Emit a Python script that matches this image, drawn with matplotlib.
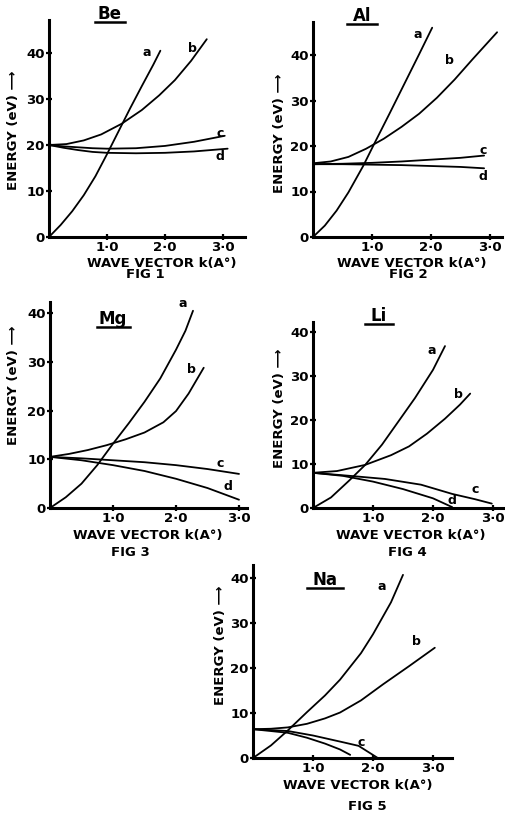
import matplotlib
matplotlib.use("Agg")
import matplotlib.pyplot as plt
from matplotlib.lines import Line2D

# ---------------- data ----------------
# Be
be_a_k = [0, 0.2, 0.4, 0.6, 0.8, 1.0, 1.2, 1.4, 1.6, 1.8, 1.92]
be_a_E = [0, 2.6, 5.6, 9.1, 13.2, 18, 23, 28, 32.8, 37.5, 40.5]
be_b_k = [0, 0.3, 0.6, 0.9, 1.25, 1.6, 1.9, 2.17, 2.45, 2.72]
be_b_E = [20, 20.2, 21, 22.3, 24.6, 27.6, 30.8, 34.1, 38.3, 43]
be_c_k = [0, 0.25, 0.5, 0.75, 1.0, 1.5, 2.0, 2.5, 3.03]
be_c_E = [20, 19.7, 19.5, 19.3, 19.2, 19.3, 19.8, 20.7, 22]
be_d_k = [0, 0.25, 0.5, 0.75, 1.0, 1.5, 2.0, 2.5, 3.08]
be_d_E = [20, 19.4, 18.9, 18.5, 18.3, 18.2, 18.3, 18.6, 19.2]

# Al
al_a_k = [0, 0.2, 0.4, 0.6, 0.85, 1.05, 1.3, 1.6, 1.8, 2.02]
al_a_E = [0, 2.5, 5.8, 9.8, 15.6, 20.8, 27.2, 35, 40.2, 46]
al_b_k = [0, 0.3, 0.6, 0.9, 1.2, 1.5, 1.8, 2.1, 2.4, 2.7, 3.12]
al_b_E = [16.2, 16.6, 17.6, 19.4, 21.6, 24.2, 27.1, 30.6, 34.6, 39, 45]
al_c_k = [0, 0.5, 1.0, 1.5, 2.0, 2.5, 2.9]
al_c_E = [16, 16.1, 16.3, 16.6, 17, 17.4, 17.9]
al_d_k = [0, 0.5, 1.0, 1.5, 2.0, 2.5, 2.9]
al_d_E = [16, 16, 15.9, 15.8, 15.6, 15.4, 15.1]

# Mg
mg_a_k = [0, 0.25, 0.5, 0.75, 1.0, 1.25, 1.5, 1.75, 2.0, 2.15, 2.27]
mg_a_E = [0, 2.2, 5, 8.8, 13.2, 17.4, 21.8, 26.6, 32.5, 36.4, 40.5]
mg_b_k = [0, 0.3, 0.6, 0.9, 1.2, 1.5, 1.8, 2.0, 2.2, 2.44]
mg_b_E = [10.5, 11.1, 11.9, 12.9, 14.1, 15.5, 17.6, 19.9, 23.5, 28.8]
mg_c_k = [0, 0.5, 1.0, 1.5, 2.0, 2.5, 3.0]
mg_c_E = [10.5, 10.2, 9.8, 9.4, 8.8, 8, 7]
mg_d_k = [0, 0.5, 1.0, 1.5, 2.0, 2.5, 3.0]
mg_d_E = [10.5, 9.8, 8.8, 7.6, 6, 4.1, 1.7]

# Li
li_a_k = [0, 0.3, 0.6, 0.87, 1.15, 1.42, 1.7, 2.0, 2.2]
li_a_E = [0, 2.4, 6.2, 9.8, 14.4, 19.6, 25, 31.4, 36.8]
li_b_k = [0, 0.4, 0.87, 1.3, 1.6, 1.9, 2.2, 2.45, 2.62]
li_b_E = [8, 8.4, 9.8, 12, 14, 16.9, 20.3, 23.5, 26]
li_c_k = [0, 0.62, 1.2, 1.8, 2.32, 2.7, 2.98]
li_c_E = [8, 7.3, 6.6, 5.3, 3.2, 2.0, 1.0]
li_d_k = [0, 0.5, 1.0, 1.5, 2.0, 2.32]
li_d_E = [8, 7.3, 6, 4.3, 2.2, 0.2]

# Na
na_a_k = [0, 0.3, 0.57, 0.9, 1.2, 1.45, 1.8, 2.0, 2.3, 2.5]
na_a_E = [0, 2.8, 6, 10.2, 13.9, 17.4, 23.3, 27.5, 34.6, 40.7]
na_b_k = [0, 0.3, 0.58, 0.9, 1.2, 1.45, 1.8, 2.17, 2.6, 3.03]
na_b_E = [6.4, 6.5, 6.8, 7.6, 8.8, 10.1, 12.8, 16.4, 20.4, 24.5]
na_c_k = [0, 0.58, 1.0, 1.5, 1.76, 2.08]
na_c_E = [6.4, 6.0, 5.0, 3.5, 2.7, 0]
na_d_k = [0, 0.58, 0.9, 1.2, 1.45, 1.62]
na_d_E = [6.4, 5.6, 4.5, 3.2, 1.9, 0.7]

y_ticks = [0, 10, 20, 30, 40]
y_tick_labels = ["0", "10", "20", "30", "40"]
x_ticks = [1, 2, 3]
x_tick_labels = ["1·0", "2·0", "3·0"]
curve_names = ["a", "b", "c", "d"]
metals = ["Be", "Al", "Mg", "Li", "Na"]
fig_names = ["FIG 1", "FIG 2", "FIG 3", "FIG 4", "FIG 5"]

curves = [
    [(be_a_k, be_a_E), (be_b_k, be_b_E), (be_c_k, be_c_E), (be_d_k, be_d_E)],
    [(al_a_k, al_a_E), (al_b_k, al_b_E), (al_c_k, al_c_E), (al_d_k, al_d_E)],
    [(mg_a_k, mg_a_E), (mg_b_k, mg_b_E), (mg_c_k, mg_c_E), (mg_d_k, mg_d_E)],
    [(li_a_k, li_a_E), (li_b_k, li_b_E), (li_c_k, li_c_E), (li_d_k, li_d_E)],
    [(na_a_k, na_a_E), (na_b_k, na_b_E), (na_c_k, na_c_E), (na_d_k, na_d_E)],
]

# ---------------- layout (pixels) ----------------
W, H = 506, 814
# origin x, origin y, px per k unit, px per eV, x axis end, y axis top
layout = [
    (49, 237, 58, 4.60, 245, 20),
    (313, 237, 59, 4.55, 502, 22),
    (50, 508, 63, 4.87, 247, 302),
    (313, 508, 60, 4.40, 505, 322),
    (253, 758, 60, 4.50, 452, 565),
]
# curve label positions (data units)
label_pos = [
    [(1.69, 40), (2.47, 41), (2.95, 22.6), (2.95, 17.4)],
    [(1.78, 44.4), (2.32, 38.9), (2.88, 19.1), (2.88, 13.2)],
    [(2.10, 41.9), (2.24, 28.5), (2.70, 9.2), (2.83, 4.5)],
    [(1.98, 35.7), (2.42, 25.9), (2.70, 4.3), (2.32, 1.6)],
    [(2.15, 38.2), (2.72, 25.8), (1.80, 3.4), None],
]
title_px = [(110, 14), (362, 16), (113, 319), (379, 316), (325, 580)]
underline_px = [(95, 125, 22), (347, 377, 24), (97, 130, 327), (365, 393, 324), (307, 343, 588)]
ylabel_px = [(14, 130), (279, 133), (14, 385), (280, 408), (221, 645)]
xlabel_px = [(162, 263), (412, 263), (148, 536), (411, 536), (358, 786)]
figlabel_px = [(145, 275), (408, 275), (130, 553), (407, 553), (367, 807)]

fig = plt.figure(figsize=(W / 100, H / 100), dpi=100)
bold = dict(fontweight="bold", family="DejaVu Sans")

for i in range(5):
    ox, oy, sx, sy, xend, ytop = layout[i]
    ax = fig.add_axes([ox / W, (H - oy) / H, (xend - ox) / W, (oy - ytop) / H])
    ax.set_xlim(0, (xend - ox) / sx)
    ax.set_ylim(0, (oy - ytop) / sy)
    for s in ["top", "right"]:
        ax.spines[s].set_visible(False)
    for s in ["left", "bottom"]:
        ax.spines[s].set_linewidth(2.2)
        ax.spines[s].set_color("black")
    ax.patch.set_alpha(0)
    for j, (k, E) in enumerate(curves[i]):
        ax.plot(k, E, color="black", lw=1.3, solid_capstyle="round",
                solid_joinstyle="round", clip_on=False)
        lp = label_pos[i][j]
        if lp is not None:
            ax.text(lp[0], lp[1], curve_names[j], fontsize=9, ha="center", va="center", **bold)
    ax.set_yticks(y_ticks)
    ax.set_yticklabels(y_tick_labels, fontsize=9.5, fontweight="bold")
    ax.set_xticks(x_ticks)
    ax.set_xticklabels(x_tick_labels, fontsize=9.5, fontweight="bold")
    ax.tick_params(axis="both", direction="inout", length=5, width=1.6, pad=0.5)
    # titles, labels
    tx, ty = title_px[i]
    fig.text(tx / W, 1 - ty / H, metals[i], fontsize=12, ha="center", va="center", **bold)
    u0, u1, uy = underline_px[i]
    fig.add_artist(Line2D([u0 / W, u1 / W], [1 - uy / H, 1 - uy / H],
                          transform=fig.transFigure, color="black", lw=1.8))
    lx, ly = ylabel_px[i]
    fig.text(lx / W, 1 - ly / H, "ENERGY (eV) ⟶", rotation=90, fontsize=9.5,
             ha="center", va="center", **bold)
    xx, xy = xlabel_px[i]
    fig.text(xx / W, 1 - xy / H, "WAVE VECTOR k(A°)", fontsize=9.5,
             ha="center", va="center", **bold)
    fx, fy = figlabel_px[i]
    fig.text(fx / W, 1 - fy / H, fig_names[i], fontsize=9.5,
             ha="center", va="center", **bold)

fig.savefig("out.png", dpi=100)
